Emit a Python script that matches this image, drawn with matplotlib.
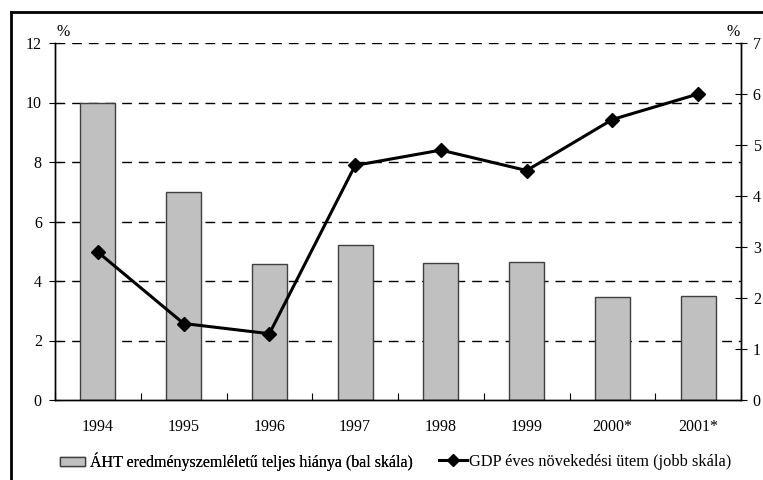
import numpy as np
import matplotlib.pyplot as plt
from matplotlib.lines import Line2D

plt.rcParams['font.family'] = ['Liberation Serif', 'DejaVu Serif']

years = ["1994", "1995", "1996", "1997", "1998", "1999", "2000*", "2001*"]
deficit = [10.0, 7.0, 4.57, 5.2, 4.6, 4.64, 3.46, 3.48]      # left scale
gdp_growth = [2.9, 1.5, 1.3, 4.6, 4.9, 4.5, 5.5, 6.0]         # right scale

deficit_label = "ÁHT eredményszemléletű teljes hiánya (bal skála)"
gdp_label = "GDP éves növekedési ütem (jobb skála)"

FS = 11.5

fig = plt.figure(figsize=(7.63, 4.8), dpi=100)
ax = fig.add_axes([55 / 763, 80 / 480, 686 / 763, 357 / 480])
ax2 = ax.twinx()

x = np.arange(len(years))
bars = ax.bar(x, deficit, width=0.41, color="#c0c0c0", edgecolor="#404040",
              linewidth=1.0, zorder=2)
line, = ax2.plot(x, gdp_growth, color="black", linewidth=2.2, marker="D",
                 markersize=7, zorder=3)

ax.set_xlim(-0.5, len(years) - 0.5)
ax.set_ylim(0, 12)
ax2.set_ylim(0, 7)
ax.set_yticks(np.arange(0, 13, 2))
ax2.set_yticks(np.arange(0, 8, 1))

ax.set_xticks(x)
ax.set_xticklabels(years)
ax.set_xticks(np.arange(-0.5, len(years), 1), minor=True)
ax.tick_params(axis="x", which="major", length=0, pad=13.5, labelsize=FS)
ax.tick_params(axis="x", which="minor", length=5, direction="in", width=0.8)
ax.tick_params(axis="y", direction="inout", length=9, width=0.8, labelsize=FS, pad=5)
ax2.tick_params(axis="y", direction="inout", length=9, width=0.8, labelsize=FS, pad=4)

for y in np.arange(2, 13, 2):
    ax.axhline(y, color="black", linestyle=(0, (7, 5)), linewidth=1.0, zorder=1)

for a in (ax, ax2):
    a.spines["top"].set_visible(False)
    a.spines["left"].set_linewidth(1.0)
    a.spines["right"].set_linewidth(1.0)
    a.spines["bottom"].set_linewidth(1.0)

fig.text(63 / 763, 1 - 32 / 480, "%", fontsize=FS, ha="center", va="center")
fig.text(733 / 763, 1 - 32 / 480, "%", fontsize=FS, ha="center", va="center")

# legend: two pieces so the patch and the line handle get their own lengths
leg1 = fig.legend([bars], [deficit_label], loc="center left",
                  bbox_to_anchor=(46 / 763, 1 - 462 / 480), frameon=False,
                  fontsize=FS, handlelength=1.56, handleheight=0.55,
                  handletextpad=0.3)
leg2 = fig.legend([Line2D([], [], color="black", linewidth=2.2, marker="D",
                          markersize=6)],
                  [gdp_label], loc="center left",
                  bbox_to_anchor=(424 / 763, 1 - 462 / 480), frameon=False,
                  fontsize=FS + 0.3, handlelength=1.7, handletextpad=0.12)
fig.add_artist(leg1)

# outer frame: only the top and left edges fall inside the picture
fig.add_artist(Line2D([11 / 763, 11 / 763], [0, 1 - 12 / 480],
                      transform=fig.transFigure, color="black", linewidth=2))
fig.add_artist(Line2D([11 / 763, 1], [1 - 12 / 480, 1 - 12 / 480],
                      transform=fig.transFigure, color="black", linewidth=2))

fig.savefig("out.png", dpi=100)
